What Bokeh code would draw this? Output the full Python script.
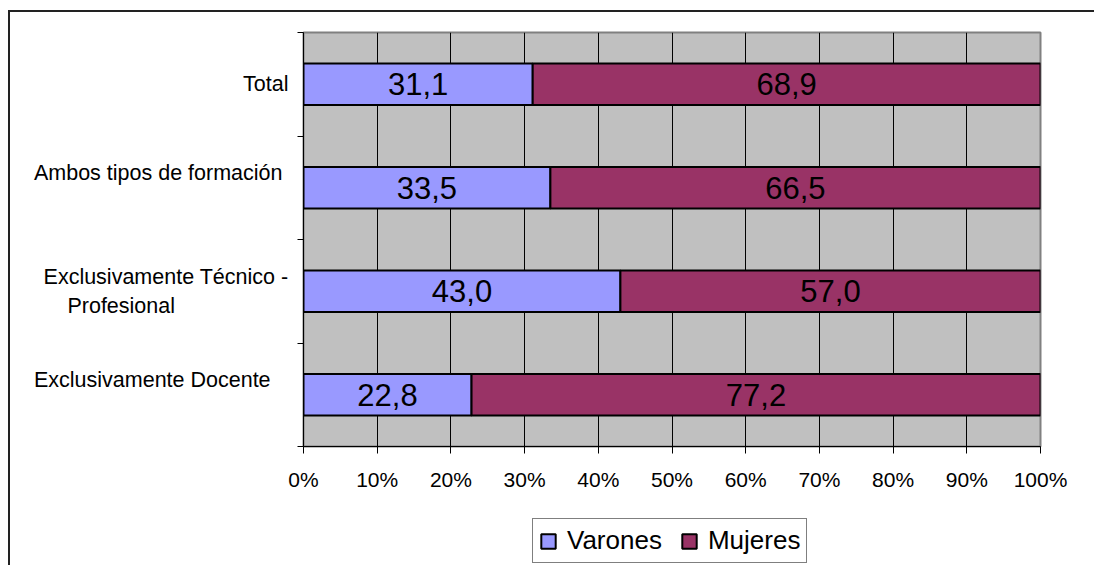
from bokeh.plotting import figure
from bokeh.layouts import column
from bokeh.models import FixedTicker, Range1d, Legend, LegendItem, ColumnDataSource
from bokeh.core.properties import value
from bokeh.embed import file_html
from bokeh.resources import INLINE

NB = "\u00a0"
categories = ["Total", "Ambos tipos de formación", "Exclusivamente Técnico - Profesional", "Exclusivamente Docente"]
category_tick_labels = [
    "Total",
    "Ambos tipos de formación" + NB + "\n" + NB,
    "Exclusivamente Técnico -\nProfesional" + NB * 19,
    "Exclusivamente Docente" + NB * 3 + "\n" + NB,
]
varones = [31.1, 33.5, 43.0, 22.8]
mujeres = [68.9, 66.5, 57.0, 77.2]
series_names = ["Varones", "Mujeres"]
series_colors = ["#9999FF", "#993366"]
x_ticks = [0, 10, 20, 30, 40, 50, 60, 70, 80, 90, 100]
x_tick_labels = ["0%", "10%", "20%", "30%", "40%", "50%", "60%", "70%", "80%", "90%", "100%"]

FONT = "Liberation Sans"
n = len(categories)
ypos = [n - i - 0.5 for i in range(n)]
fmt = lambda v: f"{v:.1f}".replace(".", ",")

src = ColumnDataSource(dict(
    y=ypos,
    vend=varones,
    mend=[a + b for a, b in zip(varones, mujeres)],
    vmid=[a / 2 for a in varones],
    mmid=[a + b / 2 for a, b in zip(varones, mujeres)],
    vlab=[fmt(a) for a in varones],
    mlab=[fmt(b) for b in mujeres],
))

xr = Range1d(0, 100)
yr = Range1d(0, n)

p = figure(width=1084, height=498, output_backend="svg", toolbar_location=None,
           x_range=xr, y_range=yr,
           min_border_left=293, min_border_right=54, min_border_top=20, min_border_bottom=64)

p.background_fill_color = "#C0C0C0"
p.border_fill_color = "white"
p.outline_line_color = "#808080"
p.outline_line_width = 2

bar_kw = dict(height=0.4, line_color="black", line_width=2)
p.hbar(y="y", left=0, right="vend", source=src, fill_color=series_colors[0], **bar_kw)
p.hbar(y="y", left="vend", right="mend", source=src, fill_color=series_colors[1], **bar_kw)

p.text(x="vmid", y="y", text="vlab", source=src, text_align="center", text_baseline="middle",
       text_font=value(FONT), text_font_size="31px", text_color="black")
p.text(x="mmid", y="y", text="mlab", source=src, text_align="center", text_baseline="middle",
       text_font=value(FONT), text_font_size="31px", text_color="black")

# grids
p.ygrid.grid_line_color = None
p.xgrid.ticker = FixedTicker(ticks=x_ticks)
p.xgrid.grid_line_color = "black"
p.xgrid.grid_line_width = 1
p.xgrid.level = "underlay"

# x axis
xa = p.xaxis[0]
xa.ticker = FixedTicker(ticks=x_ticks)
xa.major_label_overrides = {t: l for t, l in zip(x_ticks, x_tick_labels)}
xa.major_label_text_font = FONT
xa.major_label_text_font_size = "21px"
xa.major_label_text_color = "black"
xa.major_tick_out = 7
xa.major_tick_in = 0
xa.minor_tick_line_color = None
xa.axis_line_color = "black"
xa.axis_line_width = 1
xa.major_tick_line_color = "black"
xa.major_label_standoff = 14

# y axis
ya = p.yaxis[0]
ya.ticker = FixedTicker(ticks=ypos, minor_ticks=list(range(n + 1)))
ya.major_label_overrides = {y: l for y, l in zip(ypos, category_tick_labels)}
ya.major_label_text_font = FONT
ya.major_label_text_font_size = "21.5px"
ya.major_label_text_color = "black"
ya.major_tick_line_color = None
ya.major_tick_out = 0
ya.major_tick_in = 0
ya.minor_tick_out = 6
ya.minor_tick_in = 0
ya.minor_tick_line_color = "black"
ya.axis_line_color = "black"
ya.axis_line_width = 1
ya.major_label_standoff = 9

# legend strip below the chart (its own small figure so the legend is not clipped)
q = figure(width=1084, height=55, output_backend="svg", toolbar_location=None,
           x_range=xr, y_range=yr, x_axis_type=None, y_axis_type=None,
           min_border=0)
q.outline_line_color = None
q.background_fill_color = "white"
q.border_fill_color = "white"
q.xgrid.visible = False
q.ygrid.visible = False
l1 = q.hbar(y="y", left=0, right="vend", source=src, fill_color=series_colors[0], visible=False, **bar_kw)
l2 = q.hbar(y="y", left="vend", right="mend", source=src, fill_color=series_colors[1], visible=False, **bar_kw)

legend = Legend(items=[LegendItem(label=series_names[0], renderers=[l1]),
                       LegendItem(label=series_names[1], renderers=[l2])],
                orientation="horizontal", location=(229, 2))
legend.label_text_font = FONT
legend.label_text_font_size = "26px"
legend.label_text_color = "black"
legend.glyph_width = 18
legend.glyph_height = 18
legend.label_standoff = 10
legend.spacing = 18
legend.padding = 6
legend.margin = 0
legend.border_line_color = "black"
legend.border_line_width = 1
legend.background_fill_color = "white"
legend.background_fill_alpha = 1
q.add_layout(legend, "center")

layout = column(p, q, spacing=0)
layout.styles = {"margin-top": "10px", "margin-left": "8px",
                 "border-left": "2px solid #222", "border-top": "2px solid #222"}

open("out.html", "w").write(file_html(layout, INLINE))
